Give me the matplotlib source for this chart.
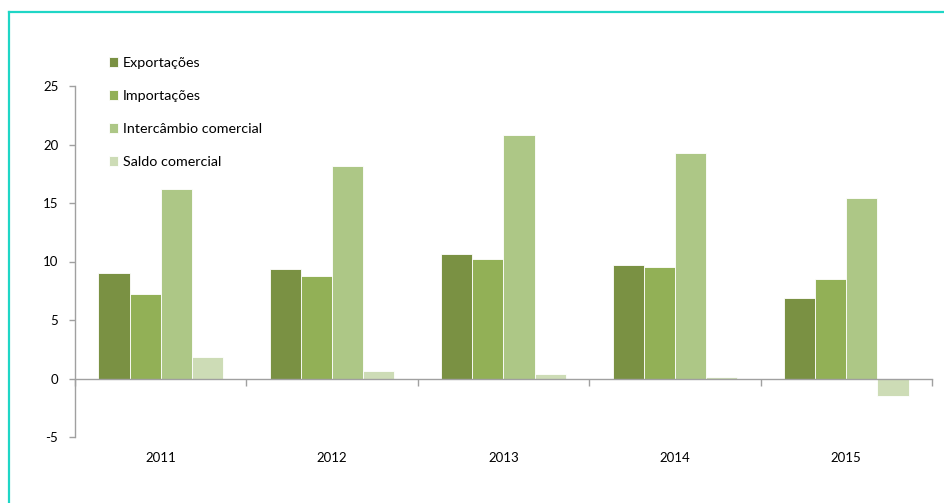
import matplotlib
matplotlib.use('Agg')
import matplotlib.pyplot as plt
from matplotlib.lines import Line2D
from matplotlib.transforms import blended_transform_factory
import numpy as np

plt.rcParams['font.family'] = ['Lato', 'DejaVu Sans']

anos = ['2011', '2012', '2013', '2014', '2015']
exportacoes = [9.0, 9.4, 10.6, 9.7, 6.9]
importacoes = [7.2, 8.8, 10.2, 9.5, 8.5]
intercambio = [16.2, 18.2, 20.8, 19.3, 15.4]
saldo = [1.8, 0.6, 0.4, 0.1, -1.5]

series = [
  ('Exportações', exportacoes, '#7a9143'),
  ('Importações', importacoes, '#92b056'),
  ('Intercâmbio comercial', intercambio, '#adc786'),
  ('Saldo comercial', saldo, '#cddcb6'),
]

fig = plt.figure(figsize=(9.44, 5.03), dpi=100)
ax = fig.add_axes([75/944, 1 - 437/503, (932 - 75)/944, (437 - 86)/503])

x = np.arange(len(anos))
w = 1 / 5.5
for i, (nome, vals, cor) in enumerate(series):
  ax.bar(x + (i - 1.5) * w, vals, w, color=cor, label=nome,
         edgecolor='white', linewidth=0.6)

ax.set_xlim(-0.5, len(anos) - 0.5)
ax.set_ylim(-5, 25)
ax.set_yticks(range(-5, 26, 5))
ax.set_yticklabels([str(v) for v in range(-5, 26, 5)])

gray = '#a0a0a0'
for s in ['top', 'right']:
  ax.spines[s].set_visible(False)
ax.spines['left'].set_color(gray)
ax.spines['bottom'].set_color(gray)
ax.spines['bottom'].set_position(('data', 0))
ax.spines['left'].set_linewidth(1)
ax.spines['bottom'].set_linewidth(1)

ax.set_xticks(np.arange(-0.5, len(anos), 1))
ax.set_xticklabels([])
ax.tick_params(axis='x', direction='out', length=5, color=gray, width=1)
ax.tick_params(axis='y', direction='out', length=4, color=gray, width=1,
               labelsize=9.5, pad=8)

trans = blended_transform_factory(ax.transData, ax.transAxes)
for xi, ano in zip(x, anos):
  ax.text(xi, -0.06, ano, transform=trans, ha='center', va='center', fontsize=9.5)

ax.legend(loc='upper left', bbox_to_anchor=(109/944, 1 - 57/503),
          bbox_transform=fig.transFigure, frameon=False, fontsize=10.3,
          handlelength=0.63, handleheight=0.63, handletextpad=0.35,
          labelspacing=1.47, borderpad=0, borderaxespad=0)

teal = '#1fd6c6'
fig.add_artist(Line2D([9/944, 9/944], [0, 1 - 12/503], color=teal, lw=1.6,
                      transform=fig.transFigure))
fig.add_artist(Line2D([9/944, 1], [1 - 12/503, 1 - 12/503], color=teal, lw=1.6,
                      transform=fig.transFigure))

fig.savefig('out.png', dpi=100)
